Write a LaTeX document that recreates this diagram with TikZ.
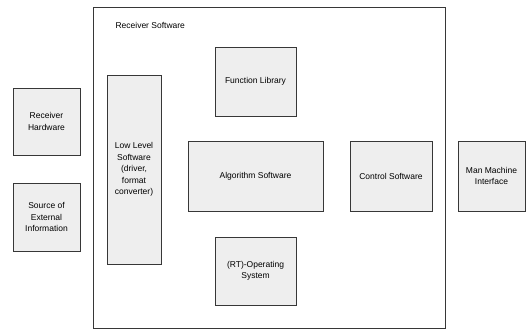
\documentclass[tikz,border=0pt]{standalone}
\usepackage{fontspec}
\setmainfont{Liberation Sans}
\usepackage{tikz}
\usetikzlibrary{positioning}
\definecolor{boxgray}{RGB}{238,238,238}
\definecolor{linegray}{RGB}{55,55,55}
\tikzset{
  swbox/.style={rectangle, draw=linegray, fill=boxgray, line width=0.9pt, align=center, font=\fontsize{8.5}{11.5}\selectfont, inner sep=2pt},
  frame/.style={rectangle, draw=linegray, line width=0.9pt, minimum width=352pt, minimum height=321pt}
}

\begin{document}
\begin{tikzpicture}[x=1pt, y=-1pt]
\useasboundingbox (0,0) rectangle (528,333);
% receiver software frame
\node[frame] (recsw) at (269,167.5) {};
\node[anchor=west, font=\fontsize{8.5}{10}\selectfont] (recswlabel) at (112,25) {Receiver Software};
% outside the frame
\node[swbox, minimum width=67pt, minimum height=67pt] (hw) at (46.5,121.5) {Receiver\\Hardware};
\node[swbox, minimum width=67pt, minimum height=68pt] (ext) at (46.5,217) {Source of\\External\\Information};
\node[swbox, minimum width=67pt, minimum height=70pt] (mmi) at (491.5,176) {Man Machine\\Interface};
% inside the frame
\node[swbox, minimum width=54pt, minimum height=189pt] (low) at (134,169.5) {Low Level\\Software\\(driver,\\format\\converter)};
\node[swbox, minimum width=81pt, minimum height=69pt] (lib) at (255.5,81.5) {Function Library};
\node[swbox, minimum width=135pt, minimum height=70pt] (alg) at (255.5,176) {Algorithm Software};
\node[swbox, minimum width=82pt, minimum height=70pt] (ctrl) at (391,176) {Control Software};
\node[swbox, minimum width=81pt, minimum height=68pt] (os) at (255.5,271) {(RT)-Operating\\System};
\end{tikzpicture}
\end{document}
